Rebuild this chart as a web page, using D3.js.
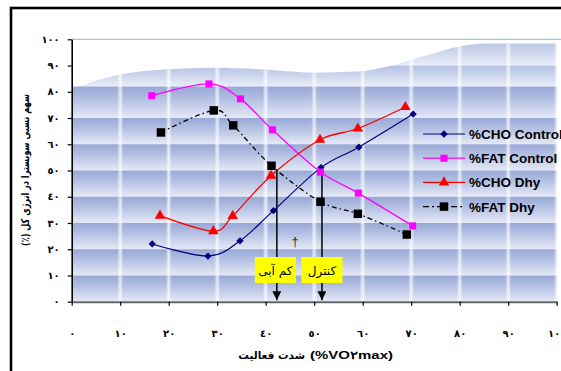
<!DOCTYPE html>
<html>
<head>
<meta charset="utf-8">
<script src="https://cdn.jsdelivr.net/npm/d3@7"></script>
<style>
  html, body { margin: 0; padding: 0; background: #fff; }
  svg { display: block; }
  .ar { font-family: "DejaVu Sans", "Noto Sans", sans-serif; }
  .lat { font-family: "Liberation Sans", Arial, sans-serif; }
</style>
</head>
<body>
<svg id="chart" width="561" height="371"></svg>
<script>
// Exercise intensity (% VO2max) and relative substrate contribution (%)
const choControlX = [16.6, 28.1, 34.7, 41.6, 51.4, 59.2, 70.4];
const choControlY = [22.0, 17.4, 23.2, 34.7, 51.1, 58.9, 71.5];
const fatControlX = [16.5, 28.3, 34.8, 41.4, 51.3, 59.1, 70.3];
const fatControlY = [78.5, 83.0, 77.3, 65.5, 49.4, 41.4, 28.9];
const choDhyX = [18.2, 29.2, 33.2, 41.1, 51.2, 59.0, 68.8];
const choDhyY = [32.8, 26.9, 32.7, 48.0, 61.7, 66.0, 74.2];
const fatDhyX = [18.4, 29.3, 33.3, 41.2, 51.3, 59.0, 69.1];
const fatDhyY = [64.5, 72.9, 67.2, 51.8, 38.1, 33.5, 25.6];

const seriesNames = ["%CHO Control", "%FAT Control", "%CHO Dhy", "%FAT Dhy"];
const tickValues = [0, 10, 20, 30, 40, 50, 60, 70, 80, 90, 100];
const tickLabels = ["٠", "١٠", "٢٠", "٣٠", "٤٠", "٥٠", "٦٠", "٧٠", "٨٠", "٩٠", "١٠٠"];

// Threshold markers: x position, arrow top value, label
const markerX = [42.3, 51.6];
const markerTop = [50.5, 49.5];
const markerLabels = ["کم آبی", "کنترل"];

const xTitleFa = "شدت فعالیت";
const xTitleUnit = "(%VO٢max)";
const yTitle = "سهم نسبی سوبسترا در انرژی کل (٪)";

// Decorative wave outline of the plot backdrop (value units)
const waveX = [0, 2, 4, 10, 20, 29, 39, 50, 59, 66, 73, 80, 85, 100];
const waveY = [82, 82.3, 83.6, 86.6, 88.6, 89.2, 88.6, 87.3, 87.7, 90.0, 93.8, 97.3, 98.4, 98.4];

const svg = d3.select("#chart");
const W = 561, H = 371;

const x = d3.scaleLinear().domain([0, 100]).range([71.7, 556.7]);
const y = d3.scaleLinear().domain([0, 100]).range([301.7, 39.3]);

const defs = svg.append("defs");

// Outer frame
svg.append("rect").attr("x", 11).attr("y", 8).attr("width", 700).attr("height", 500)
  .attr("fill", "none").attr("stroke", "#000").attr("stroke-width", 2.6);

// ---- plot backdrop: horizontal shaded bands clipped by a wave ----
const bandGrad = defs.append("linearGradient").attr("id", "band")
  .attr("x1", 0).attr("y1", 0).attr("x2", 0).attr("y2", 1);
bandGrad.append("stop").attr("offset", "0%").attr("stop-color", "#98a8d6");
bandGrad.append("stop").attr("offset", "35%").attr("stop-color", "#b0bde1");
bandGrad.append("stop").attr("offset", "100%").attr("stop-color", "#e5e9f6");

const waveGrad = defs.append("linearGradient").attr("id", "waveband")
  .attr("x1", 0).attr("y1", 0).attr("x2", 0).attr("y2", 1);
waveGrad.append("stop").attr("offset", "0%").attr("stop-color", "#b4c1e4");
waveGrad.append("stop").attr("offset", "100%").attr("stop-color", "#e9edf8");

const wavePts = waveX.map((d, i) => [d, waveY[i]]);
const waveArea = d3.area()
  .x(d => x(d[0])).y0(y(0)).y1(d => y(d[1]))
  .curve(d3.curveMonotoneX);
defs.append("clipPath").attr("id", "waveClip")
  .append("path").attr("d", waveArea(wavePts));
defs.append("clipPath").attr("id", "plotClip")
  .append("rect").attr("x", x(0)).attr("y", y(100)).attr("width", W - x(0)).attr("height", y(0) - y(100));

const back = svg.append("g").attr("clip-path", "url(#plotClip)");
const backInner = back.append("g").attr("clip-path", "url(#waveClip)");
const bandEdges = [100, 90, 82, 70, 60, 50, 40, 30, 20, 10, 0];
for (let i = 0; i < bandEdges.length - 1; i++) {
  backInner.append("rect")
    .attr("x", x(0)).attr("width", W - x(0))
    .attr("y", y(bandEdges[i])).attr("height", y(bandEdges[i + 1]) - y(bandEdges[i]))
    .attr("fill", bandEdges[i] > 82 ? "url(#waveband)" : "url(#band)");
}
// soft vertical highlights at every x gridline
const vGrad = defs.append("linearGradient").attr("id", "vstripe")
  .attr("x1", 0).attr("y1", 0).attr("x2", 1).attr("y2", 0);
vGrad.append("stop").attr("offset", "0%").attr("stop-color", "#fff").attr("stop-opacity", 0);
vGrad.append("stop").attr("offset", "50%").attr("stop-color", "#fff").attr("stop-opacity", 0.75);
vGrad.append("stop").attr("offset", "100%").attr("stop-color", "#fff").attr("stop-opacity", 0);
backInner.selectAll("rect.vs").data(tickValues.slice(1)).join("rect").attr("class", "vs")
  .attr("x", d => x(d) - 3).attr("width", 6)
  .attr("y", y(100)).attr("height", y(0) - y(100))
  .attr("fill", "url(#vstripe)");

// top boundary line of the plot area
svg.append("line").attr("x1", x(0)).attr("x2", W).attr("y1", y(100)).attr("y2", y(100))
  .attr("stroke", "#9fc6ee").attr("stroke-width", 1.2);

// ---- axes ----
const yAxis = d3.axisLeft(y).tickValues(tickValues)
  .tickFormat((d, i) => tickLabels[i]).tickSize(4).tickSizeOuter(0).tickPadding(8);
const gy = svg.append("g").attr("transform", `translate(${x(0)},0)`).call(yAxis);
gy.select(".domain").attr("stroke", "#000").attr("stroke-width", 1.6);
gy.selectAll(".tick line").attr("stroke", "#000").attr("stroke-width", 1.2);
gy.selectAll(".tick text").attr("class", "ar").attr("font-size", 10).attr("font-weight", "bold")
  .attr("fill", "#000");

const xAxis = d3.axisBottom(x).tickValues(tickValues)
  .tickFormat((d, i) => tickLabels[i]).tickSize(4).tickSizeOuter(0).tickPadding(24);
const gx = svg.append("g").attr("transform", `translate(0,${y(0)})`).call(xAxis);
gx.select(".domain").attr("stroke", "#666").attr("stroke-width", 2);
gx.selectAll(".tick line").attr("stroke", "#000").attr("stroke-width", 1.2);
gx.selectAll(".tick text").attr("class", "ar").attr("font-size", 10).attr("font-weight", "bold")
  .attr("fill", "#000");

// axis titles: Persian words on the left, unit in parentheses on the right
svg.append("text").attr("class", "ar")
  .attr("x", 305).attr("y", 359).attr("text-anchor", "end")
  .attr("font-size", 10.5).attr("font-weight", "bold")
  .text(xTitleFa);
svg.append("text").attr("class", "lat")
  .attr("x", 310).attr("y", 359).attr("text-anchor", "start")
  .attr("font-size", 11).attr("font-weight", "bold")
  .attr("textLength", 83).attr("lengthAdjust", "spacingAndGlyphs")
  .text(xTitleUnit);
svg.append("text").attr("class", "ar")
  .attr("transform", "translate(29,170) rotate(-90)").attr("text-anchor", "middle")
  .attr("font-size", 11).attr("font-weight", "bold").attr("direction", "rtl")
  .attr("textLength", 152).attr("lengthAdjust", "spacingAndGlyphs")
  .text(yTitle);

// ---- threshold arrows and labels ----
defs.append("marker").attr("id", "arrowHead")
  .attr("viewBox", "0 0 10 10").attr("refX", 10).attr("refY", 5)
  .attr("markerWidth", 6).attr("markerHeight", 6).attr("orient", "auto")
  .append("path").attr("d", "M0,0 L10,5 L0,10 Z").attr("fill", "#000");

markerX.forEach((mx, i) => {
  svg.append("line")
    .attr("x1", x(mx)).attr("x2", x(mx))
    .attr("y1", y(markerTop[i])).attr("y2", y(0.6))
    .attr("stroke", "#000").attr("stroke-width", 1.5)
    .attr("marker-end", "url(#arrowHead)");
});

// ---- series ----
const line = d3.line().x(d => x(d[0])).y(d => y(d[1])).curve(d3.curveCardinal.tension(0));
const zip = (xs, ys) => xs.map((v, i) => [v, ys[i]]);

const series = [
  { name: seriesNames[0], pts: zip(choControlX, choControlY), color: "#00007f", dash: null, sym: d3.symbolDiamond2, size: 34, w: 1.2 },
  { name: seriesNames[1], pts: zip(fatControlX, fatControlY), color: "#ff00ff", dash: null, sym: d3.symbolSquare, size: 50, w: 1.3 },
  { name: seriesNames[2], pts: zip(choDhyX, choDhyY), color: "#ff0000", dash: null, sym: d3.symbolTriangle, size: 48, w: 1.3 },
  { name: seriesNames[3], pts: zip(fatDhyX, fatDhyY), color: "#000000", dash: "5,3,1.5,3", sym: d3.symbolSquare, size: 72, w: 1.3 },
];

series.forEach(s => {
  svg.append("path").attr("d", line(s.pts)).attr("fill", "none")
    .attr("stroke", s.color).attr("stroke-width", s.w)
    .attr("stroke-dasharray", s.dash);
});
series.forEach(s => {
  svg.selectAll(null).data(s.pts).join("path")
    .attr("transform", d => `translate(${x(d[0])},${y(d[1])})`)
    .attr("d", d3.symbol(s.sym, s.size))
    .attr("fill", s.color);
});

// yellow label boxes over the arrows
markerX.forEach((mx, i) => {
  const cx = x(mx) - (i === 0 ? 1.5 : 0);
  svg.append("rect").attr("x", cx - 20.5).attr("y", 257).attr("width", 41).attr("height", 26)
    .attr("fill", "#ffff00");
  svg.append("text").attr("class", "ar")
    .attr("x", cx).attr("y", 275).attr("text-anchor", "middle")
    .attr("font-size", 12).attr("direction", "rtl").attr("fill", "#000")
    .text(markerLabels[i]);
});
svg.append("text").attr("class", "lat")
  .attr("x", 295).attr("y", 246).attr("text-anchor", "middle")
  .attr("font-size", 12).attr("fill", "#222").text("†");

// ---- legend ----
const legend = svg.append("g").attr("transform", "translate(423,134)");
series.forEach((s, i) => {
  const g = legend.append("g").attr("transform", `translate(0,${i * 24.2})`);
  g.append("line").attr("x1", 0).attr("x2", 42).attr("y1", 0).attr("y2", 0)
    .attr("stroke", s.color).attr("stroke-width", s.w)
    .attr("stroke-dasharray", s.dash ? "6,3,2,3" : null);
  g.append("path").attr("transform", "translate(21,0)")
    .attr("d", d3.symbol(s.sym, s.size)).attr("fill", s.color);
  g.append("text").attr("class", "lat").attr("x", 46).attr("y", 5)
    .attr("font-size", 13.5).attr("font-weight", "bold").attr("fill", "#000")
    .text(s.name);
});
</script>
</body>
</html>
